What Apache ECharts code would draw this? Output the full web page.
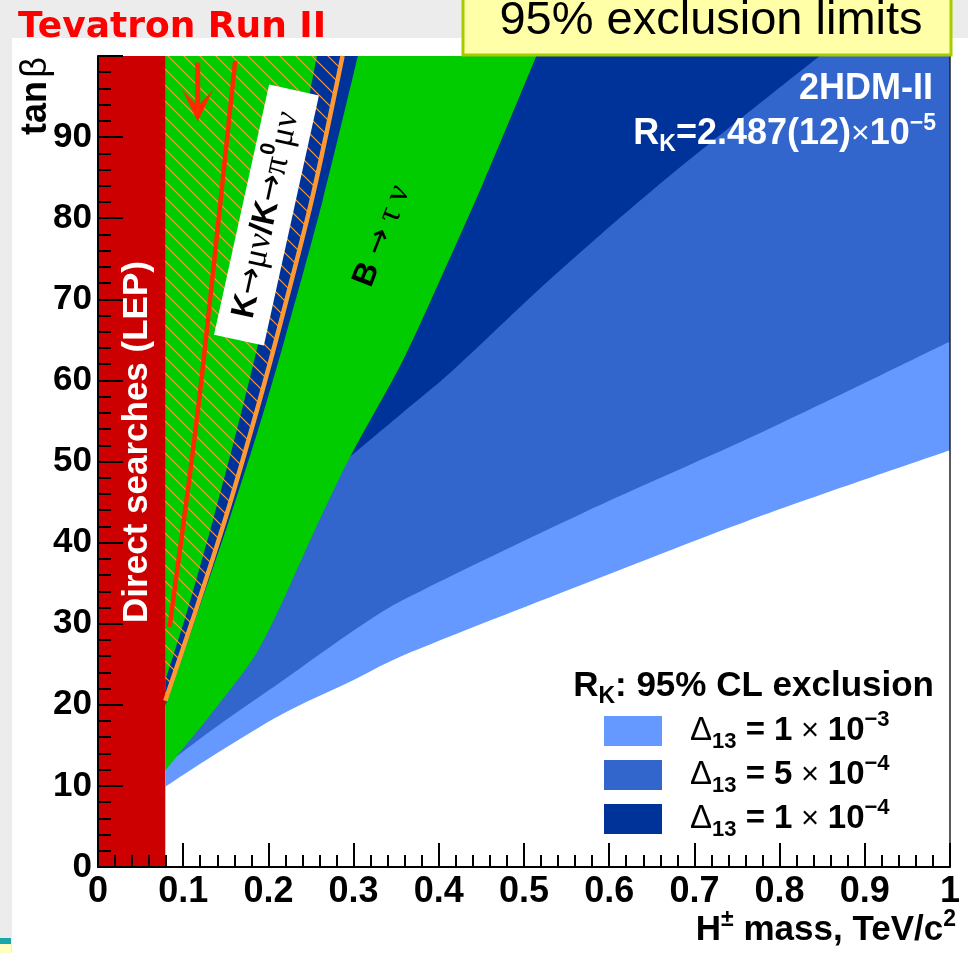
<!DOCTYPE html>
<html>
<head>
<meta charset="utf-8">
<script src="https://cdn.jsdelivr.net/npm/echarts@6/dist/echarts.min.js"></script>
<style>
  html, body { margin: 0; padding: 0; background: #ffffff; }
  #chart { width: 968px; height: 953px; }
</style>
</head>
<body>
<div id="chart"></div>
<script>
// 2HDM type-II exclusion limits in the (m_H+, tan beta) plane.
// Every boundary is a list of [mass in TeV/c^2, tan beta] points; the
// excluded region lies above (to the left of) each boundary.

const lepLimit = 0.079;                      // direct searches (LEP), TeV/c^2

// R_K exclusion contours
const rkDelta1e3 = [[0.079, 9.9], [0.139, 14.0], [0.217, 18.9], [0.295, 22.8], [0.354, 25.9],
                    [0.568, 34.8], [0.781, 43.4], [1.0, 51.4]];
const rkDelta5e4 = [[0.092, 13.6], [0.139, 17.3], [0.217, 23.0], [0.295, 28.8], [0.354, 32.7],
                    [0.568, 43.6], [0.781, 53.7], [1.0, 64.8]];
const rkDelta1e4 = [[0.296, 50.6], [0.354, 55.7], [0.413, 60.9], [0.530, 72.4], [0.665, 84.7],
                    [0.847, 100]];

// B -> tau nu
const bTauNu = [[0.079, 11.9], [0.092, 13.6], [0.139, 19.7], [0.190, 27.1], [0.260, 42.8],
                [0.296, 50.6], [0.358, 62.5], [0.405, 73.2], [0.452, 84.3], [0.5145, 100]];

// K -> mu nu / K -> pi0 mu nu
const kl23Outer = [[0.079, 19.8], [0.118, 31.7], [0.154, 42.8], [0.188, 53.9], [0.219, 65.0],
                   [0.264, 82.3], [0.305, 100]];
const kl23Edge  = [[0.079, 20.5], [0.115, 31.7], [0.149, 42.8], [0.180, 53.9], [0.209, 65.0],
                   [0.251, 82.3], [0.287, 100]];
const kl23Inner = [[0.079, 23.0], [0.105, 31.7], [0.135, 42.8], [0.163, 53.9], [0.189, 65.0],
                   [0.224, 82.3], [0.257, 100]];

// Tevatron Run II
const tevatron = [[0.084, 29.6], [0.108, 48.5], [0.124, 62.5], [0.161, 99.4]];
const tevatronArrow = [[0.117, 99.2, 91.9]];   // [mass, tail, tip]

const xTickLabels = ['0', '0.1', '0.2', '0.3', '0.4', '0.5', '0.6', '0.7', '0.8', '0.9', '1'];
const yTickLabels = ['0', '10', '20', '30', '40', '50', '60', '70', '80', '90'];

const legendEntries = [
  { name: 'Δ13 = 1×10−3', mant: '1', exp: '−3', color: '#6699ff' },
  { name: 'Δ13 = 5×10−4', mant: '5', exp: '−4', color: '#3366cc' },
  { name: 'Δ13 = 1×10−4', mant: '1', exp: '−4', color: '#003399' }
];

const SANS = '"Liberation Sans", Arial, Helvetica, sans-serif';
const SERIF = '"Liberation Serif", "DejaVu Serif", serif';
const ARROW = '"DejaVu Sans", sans-serif';

const GREEN = '#00cc00';
const DARK = '#003399';
const ORANGE = '#ff9933';
const SMOOTH = 0.3;

// diagonal hatching tile for the K_l2/K_l3 region
function hatchTile(size, color, width) {
  const c = document.createElement('canvas');
  c.width = size; c.height = size;
  const g = c.getContext('2d');
  g.strokeStyle = color;
  g.lineWidth = width;
  for (let k = -1; k <= 1; k++) {
    g.beginPath();
    g.moveTo(-1, -1 + k * size);
    g.lineTo(size + 1, size + 1 + k * size);
    g.stroke();
  }
  return c;
}

// filled region above a boundary curve, up to the top of the axis
function region(name, pts, fill, z) {
  return {
    type: 'line', name: name, data: pts, z: z, smooth: SMOOTH,
    symbol: 'none', showSymbol: false, silent: true, animation: false,
    lineStyle: { width: 0, opacity: 0 },
    itemStyle: { color: typeof fill === 'string' ? fill : ORANGE },
    areaStyle: { origin: 'end', color: fill, opacity: 1 }
  };
}

// rich-text token styles for plain graphic text (zrender uses "fill")
function tokens(fill, size) {
  const s = size || 34;
  return {
    m: { fontFamily: SANS, fontWeight: 'bold', fontSize: s, fill: fill, lineHeight: 44, verticalAlign: 'middle' },
    r: { fontFamily: SANS, fontSize: s, fill: fill, lineHeight: 44, verticalAlign: 'middle' },
    x: { fontFamily: SANS, fontSize: s - 4, fill: fill, lineHeight: 44, verticalAlign: 'middle' },
    g: { fontFamily: SERIF, fontSize: s + 2, fill: fill, lineHeight: 44, verticalAlign: 'middle' },
    a: { fontFamily: ARROW, fontSize: s, fill: fill, lineHeight: 44, verticalAlign: 'middle' },
    sub: { fontFamily: SANS, fontWeight: 'bold', fontSize: Math.round(s * 0.65), fill: fill, lineHeight: 22, verticalAlign: 'bottom' },
    sup: { fontFamily: SANS, fontWeight: 'bold', fontSize: Math.round(s * 0.65), fill: fill, lineHeight: 20, verticalAlign: 'top' }
  };
}

const chart = echarts.init(document.getElementById('chart'), null, { renderer: 'canvas' });

const series = [
  region(legendEntries[0].name, rkDelta1e3, legendEntries[0].color, 2),
  region(legendEntries[1].name, rkDelta5e4, legendEntries[1].color, 2),
  region(legendEntries[2].name, rkDelta1e4, legendEntries[2].color, 2),
  region('B→τν', bTauNu, GREEN, 2),
  region('Kl2/Kl3 band', kl23Outer, DARK, 2),
  region('Kl2/Kl3 inner', kl23Inner, GREEN, 2),
  region('Kl2/Kl3 hatch', kl23Edge, { image: hatchTile(16, ORANGE, 1.2), repeat: 'repeat' }, 2),
  {
    type: 'line', name: 'Kl2/Kl3 edge', data: kl23Edge, z: 3, smooth: SMOOTH,
    symbol: 'none', silent: true, animation: false,
    lineStyle: { color: ORANGE, width: 4.5 }
  },
  {
    type: 'line', name: 'LEP', data: [], z: 3, silent: true, animation: false,
    markArea: {
      silent: true,
      itemStyle: { color: '#cc0000', opacity: 1 },
      data: [[{ coord: [0, 0] }, { coord: [lepLimit, 100] }]]
    }
  },
  {
    type: 'line', name: 'Tevatron Run II', data: tevatron, z: 4, smooth: SMOOTH,
    symbol: 'none', silent: true, animation: false,
    lineStyle: { color: '#ff2a00', width: 4.5, cap: 'butt' }
  },
  {
    type: 'custom', name: 'Tevatron arrow', data: tevatronArrow, z: 4, silent: true,
    renderItem: function (params, api) {
      const tail = api.coord([api.value(0), api.value(1)]);
      const tip = api.coord([api.value(0), api.value(2)]);
      const headLen = 32, halfW = 15.5, notch = 16;
      return {
        type: 'group',
        children: [
          { type: 'line', shape: { x1: tail[0], y1: tail[1], x2: tip[0], y2: tip[1] - notch },
            style: { stroke: '#ff2a00', lineWidth: 5 } },
          { type: 'polygon',
            shape: { points: [[tip[0], tip[1]], [tip[0] - halfW, tip[1] - headLen],
                              [tip[0], tip[1] - notch], [tip[0] + halfW, tip[1] - headLen]] },
            style: { fill: '#ff2a00' } }
        ]
      };
    }
  }
];

const legendRich = {
  d: { fontFamily: SANS, fontSize: 33, color: '#000', lineHeight: 44, verticalAlign: 'middle', padding: [0, 0, 0, 23] },
  s: { fontFamily: SANS, fontWeight: 'bold', fontSize: 22, color: '#000', lineHeight: 22, verticalAlign: 'bottom' },
  t: { fontFamily: SANS, fontWeight: 'bold', fontSize: 33, color: '#000', lineHeight: 44, verticalAlign: 'middle' },
  x: { fontFamily: SANS, fontSize: 31, color: '#000', lineHeight: 44, verticalAlign: 'middle' },
  p: { fontFamily: SANS, fontWeight: 'bold', fontSize: 22, color: '#000', lineHeight: 18, verticalAlign: 'top' }
};

const option = {
  animation: false,
  backgroundColor: '#ffffff',
  grid: { left: 98, top: 56, width: 852, height: 811, containLabel: false },
  xAxis: {
    type: 'value', min: 0, max: 1, interval: 0.1, z: 10,
    axisLine: { onZero: false, lineStyle: { color: '#000', width: 2 } },
    axisTick: { inside: true, length: 24, lineStyle: { color: '#000', width: 2 } },
    minorTick: { show: true, splitNumber: 5, length: 12, lineStyle: { color: '#000', width: 2 } },
    splitLine: { show: false },
    axisLabel: {
      margin: 7, color: '#000', fontFamily: SANS, fontWeight: 'bold', fontSize: 36,
      formatter: function (v) { return xTickLabels[Math.round(v * 10)]; }
    }
  },
  yAxis: [
    {
      type: 'value', min: 0, max: 100, interval: 10, z: 10,
      axisLine: { onZero: false, lineStyle: { color: '#000', width: 2 } },
      axisTick: { inside: true, length: 25, lineStyle: { color: '#000', width: 2 } },
      minorTick: { show: true, splitNumber: 5, length: 13, lineStyle: { color: '#000', width: 2 } },
      splitLine: { show: false },
      axisLabel: {
        margin: 6, color: '#000', fontFamily: SANS, fontWeight: 'bold', fontSize: 35,
        formatter: function (v) { const t = yTickLabels[Math.round(v / 10)]; return t === undefined ? '' : t; }
      }
    },
    {
      type: 'value', min: 0, max: 100, position: 'right', z: 10,
      axisLine: { show: true, onZero: false, lineStyle: { color: '#222', width: 1.5 } },
      axisTick: { show: false }, axisLabel: { show: false }, splitLine: { show: false }
    }
  ],
  legend: {
    orient: 'vertical', left: 604, top: 709, padding: 0, itemGap: 0,
    itemWidth: 58, itemHeight: 30, icon: 'rect', selectedMode: false,
    data: legendEntries.map(function (e) { return { name: e.name, itemStyle: { color: e.color, opacity: 1 } }; }),
    formatter: function (name) {
      const e = legendEntries.find(function (q) { return q.name === name; });
      return '{d|Δ}{s|13}{t| = ' + e.mant + '}{x| × }{t|10}{p|' + e.exp + '}';
    },
    textStyle: { rich: legendRich }
  },
  series: series,
  graphic: [
    // slide surround
    { type: 'rect', z: 0, shape: { x: 0, y: 0, width: 968, height: 38 }, style: { fill: '#ececec' } },
    { type: 'rect', z: 0, shape: { x: 0, y: 0, width: 12, height: 953 }, style: { fill: '#ececec' } },
    { type: 'rect', z: 0, shape: { x: 0, y: 938, width: 11, height: 6 }, style: { fill: '#19a7a7' } },
    { type: 'rect', z: 0, shape: { x: 0, y: 944, width: 11, height: 9 }, style: { fill: '#ffffc0' } },
    {
      type: 'text', z: 100, x: 18, y: 28,
      style: { text: 'Tevatron Run II', fill: '#ff0000', font: 'bold 36px "DejaVu Sans", sans-serif',
               align: 'left', verticalAlign: 'middle' }
    },
    {
      type: 'rect', z: 100, shape: { x: 463, y: -4, width: 488, height: 59 },
      style: { fill: '#ffffa8', stroke: '#a6cc00', lineWidth: 3 }
    },
    {
      type: 'text', z: 101, x: 711, y: 21,
      style: { text: '95% exclusion limits', fill: '#000', font: '47px ' + SANS,
               align: 'center', verticalAlign: 'middle' }
    },
    // axis titles
    {
      type: 'text', z: 100, x: 36, y: 57, rotation: Math.PI / 2,
      style: { text: '{m|tan} {r|β}', rich: tokens('#000', 36), align: 'right', verticalAlign: 'middle' }
    },
    {
      type: 'text', z: 100, x: 956, y: 930,
      style: { text: '{m|H}{sup|±}{m| mass, TeV/c}{sup|2}', rich: tokens('#000', 35),
               align: 'right', verticalAlign: 'middle' }
    },
    // LEP band label
    {
      type: 'text', z: 100, x: 137, y: 442, rotation: Math.PI / 2,
      style: { text: 'Direct searches (LEP)', fill: '#fff', font: 'bold 35px ' + SANS,
               align: 'center', verticalAlign: 'middle' }
    },
    // model and measurement
    {
      type: 'text', z: 100, x: 933, y: 89,
      style: { text: '2HDM-II', fill: '#fff', font: 'bold 36px ' + SANS, align: 'right', verticalAlign: 'middle' }
    },
    {
      type: 'text', z: 100, x: 936, y: 134,
      style: { text: '{m|R}{sub|K}{m|=2.487(12)}{x|×}{m|10}{sup|−5}', rich: tokens('#fff', 36),
               align: 'right', verticalAlign: 'middle' }
    },
    // legend heading
    {
      type: 'text', z: 100, x: 934, y: 686,
      style: { text: '{m|R}{sub|K}{m|: 95% CL exclusion}', rich: tokens('#000', 35), align: 'right', verticalAlign: 'middle' }
    },
    // K_l2/K_l3 label on a white tilted box
    {
      type: 'group', z: 100, x: 266, y: 215, rotation: 1.354,
      children: [
        { type: 'rect', z: 100, shape: { x: -128, y: -25, width: 256, height: 51 }, style: { fill: '#fff' } },
        { type: 'text', z: 101, x: 0, y: 0,
          style: { text: '{m|K}{a|→}{g|μν}{m|/K}{a|→}{g|π}{sup|0}{g|μν}', rich: tokens('#000', 33),
                   align: 'center', verticalAlign: 'middle' } }
      ]
    },
    // B -> tau nu label
    {
      type: 'text', z: 100, x: 382, y: 236, rotation: 1.197,
      style: { text: '{m|B}{a| →}{g| τ ν}', rich: tokens('#000', 32), align: 'center', verticalAlign: 'middle' }
    }
  ]
};

chart.setOption(option);
</script>
</body>
</html>
